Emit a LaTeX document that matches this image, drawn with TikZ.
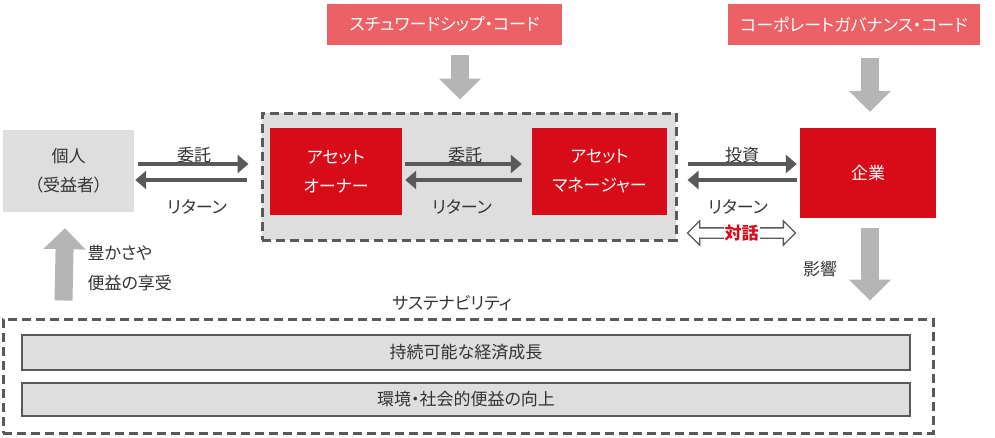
\documentclass[tikz,border=0pt]{standalone}
\usepackage{fontspec}
\setmainfont[RawFeature=+palt]{Noto Sans CJK JP}
\usetikzlibrary{arrows.meta, calc, positioning, shapes.arrows}

\definecolor{codered}{HTML}{EB6165}
\definecolor{mainred}{HTML}{D80C18}
\definecolor{boxgray}{HTML}{DEDEDE}
\definecolor{linegray}{HTML}{595959}
\definecolor{arrowgray}{HTML}{B4B5B4}
\definecolor{textgray}{HTML}{333333}

\begin{document}
\begin{tikzpicture}[x=1pt, y=-1pt,
  every node/.style={font=\fontsize{17}{29}\selectfont, text=textgray},
  codebox/.style={fill=codered, text=white, minimum height=41pt, inner sep=0pt},
  redbox/.style={fill=mainred, text=white, align=center, minimum height=87pt, inner sep=0pt},
  graybox/.style={fill=boxgray, align=center, inner sep=0pt},
  group/.style={draw=linegray, line width=3pt, dash pattern=on 9pt off 5pt, inner sep=0pt},
  barbox/.style={draw=linegray, line width=1.5pt, fill=boxgray, minimum width=888pt, inner sep=0pt},
  flow/.style={draw=linegray, line width=4pt, -{Triangle[width=18pt,length=11pt]}},
  bigarrow/.style={draw=arrowgray, line width=18pt, -{Triangle[width=41pt,length=21pt]}},
  talk/.style={double arrow, draw=linegray, fill=white, line width=1.3pt,
               text height=0pt, text depth=0pt, inner xsep=0pt, inner ysep=4.5pt,
               double arrow head extend=7pt}
]
  \useasboundingbox (0,0) rectangle (995,437);

  % Codes
  \node[codebox, minimum width=235pt] (steward) at (444.5,24.5) {スチュワードシップ・コード};
  \node[codebox, minimum width=252pt] (cg)      at (854,24.5)   {コーポレートガバナンス・コード};

  % Investment chain
  \node[graybox, minimum width=131pt, minimum height=82pt] (kojin) at (68.5,171) {個人\\（受益者）};
  \node[group, fill=boxgray, minimum width=414pt, minimum height=127pt] (chain) at (469,176.5) {};
  \node[redbox, minimum width=132pt] (owner)   at (336,171.5)   {アセット\\オーナー};
  \node[redbox, minimum width=135pt] (manager) at (599.5,171.5) {アセット\\マネージャー};
  \node[redbox, minimum width=136pt, minimum height=90pt] (kigyo) at (868,173) {企業};

  % Sustainability
  \node[group, minimum width=930pt, minimum height=114pt] (sustain) at (468,376) {};
  \node[above=3pt of sustain.north, xshift=-16pt] (sustainlabel) {サステナビリティ};
  \node[barbox, minimum height=35pt] (growth) at (466,352.5) {持続可能な経済成長};
  \node[barbox, minimum height=33pt] (social) at (466,399.5) {環境・社会的便益の向上};

  % Flows
  \draw[flow, shorten <=4pt, shorten >=12pt] (kojin.east |- 0,164) -- (chain.west |- 0,164);
  \draw[flow, shorten <=14pt, shorten >=1pt] (chain.west |- 0,180) -- (kojin.east |- 0,180);
  \draw[flow, shorten <=3pt, shorten >=10pt] (owner.east |- 0,164) -- (manager.west |- 0,164);
  \draw[flow, shorten <=10pt, shorten >=3pt] (manager.west |- 0,180) -- (owner.east |- 0,180);
  \draw[flow, shorten <=10pt, shorten >=3pt] (chain.east |- 0,164) -- (kigyo.west |- 0,164);
  \draw[flow, shorten <=3pt, shorten >=10pt] (kigyo.west |- 0,180) -- (chain.east |- 0,180);
  \node[talk, minimum height=108pt] (talkarrow) at (741.5,233) {};

  \node at (194,155) (entrust1) {委託};
  \node at (197,207) (return1)  {リターン};
  \node at (465,155) (entrust2) {委託};
  \node at (462,207) (return2)  {リターン};
  \node at (742,155) (invest)   {投資};
  \node at (738,207) (return3)  {リターン};
  \node[fill=white, inner sep=1pt, text=mainred, font=\fontsize{17}{20}\selectfont\bfseries] (talklabel) at (talkarrow) {対話};

  % Influence arrows
  \draw[bigarrow] ($(steward.south)+(15.5,10)$) -- ($(chain.north)+(-9,-12)$);
  \draw[bigarrow] ($(cg.south)+(16,13)$) -- ($(kigyo.north)+(2,-16)$);
  \draw[bigarrow] ($(kigyo.south)+(2,10)$) -- ($(sustain.north)+(402,-17)$);
  \draw[bigarrow] ($(sustain.north west)+(62,-17)$) -- ($(kojin.south)+(-3.5,16)$);

  \node[anchor=west] (benefit1) at (84,253) {豊かさや};
  \node[anchor=west] (benefit2) at (84,283) {便益の享受};
  \node (impact) at (820,269) {影響};
\end{tikzpicture}
\end{document}
